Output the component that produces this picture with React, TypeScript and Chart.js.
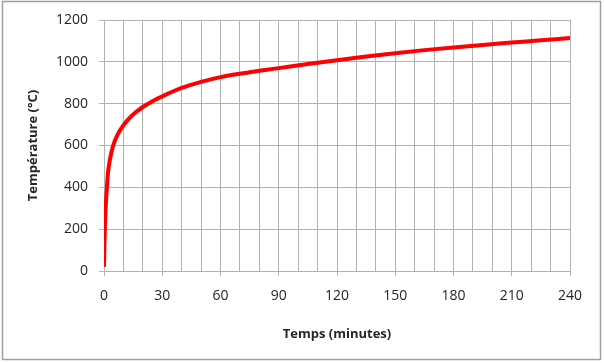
import React, { useEffect, useRef } from "react";
import { Chart, registerables } from "chart.js";

Chart.register(...registerables);

const timesMin = [0, 0.25, 0.5, 1, 1.5, 2, 3, 4, 5, 7, 10, 15, 20, 25, 30, 40, 50, 60, 75, 90, 105, 120, 135, 150, 165, 180, 195, 210, 225, 240];
const temperatures = [20, 140, 220, 330, 400, 465, 530, 575, 608, 652, 697, 748, 784, 812, 835, 875, 904, 927, 950, 970, 990, 1008, 1025, 1041, 1056, 1069, 1081, 1092, 1103, 1114];
const yTickStep = 200;
const xGridStep = 10;
const xLabelStep = 30;
const xTitle = "Temps (minutes)";
const yTitle = "Température (°C)";

const GRID = "#b3b3b3";
const TEXT = "#262626";

const borderPlugin = {
  id: "outerBorder",
  afterDraw(chart: any) {
    const ctx = chart.ctx;
    ctx.save();
    ctx.strokeStyle = "#a0a0a0";
    ctx.lineWidth = 1.5;
    ctx.strokeRect(2.5, 1.5, 598, 358);
    ctx.restore();
  },
};

export default function App() {
  const ref = useRef<HTMLCanvasElement | null>(null);
  useEffect(() => {
    document.body.style.margin = "0";
    if (!ref.current) return;
    const chart = new Chart(ref.current, {
      type: "line",
      data: {
        datasets: [
          {
            data: timesMin.map((t, i) => ({ x: t, y: temperatures[i] })),
            borderColor: "#ff0000",
            borderWidth: 4,
            pointRadius: 0,
            fill: false,
            cubicInterpolationMode: "monotone",
          },
        ],
      },
      options: {
        animation: false,
        responsive: true,
        maintainAspectRatio: false,
        layout: { padding: { top: 20, right: 34, bottom: 0, left: 0 } },
        plugins: { legend: { display: false }, tooltip: { enabled: false } },
        scales: {
          x: {
            type: "linear",
            min: 0,
            max: 240,
            afterFit: (s: any) => {
              s.height = 92;
            },
            ticks: {
              stepSize: xGridStep,
              autoSkip: false,
              maxRotation: 0,
              padding: 12,
              color: TEXT,
              font: { family: "Open Sans", size: 14 },
              callback: (v: any) => (Number(v) % xLabelStep === 0 ? String(v) : ""),
            },
            grid: {
              color: GRID,
              tickLength: 5,
              tickColor: (c: any) => (c.tick && c.tick.value % xLabelStep === 0 ? GRID : "rgba(0,0,0,0)"),
            },
            border: { color: GRID },
            title: {
              display: true,
              text: xTitle,
              color: TEXT,
              font: { family: "Open Sans", size: 13, weight: "bold" },
              padding: { top: 0, bottom: 21 },
            },
          },
          y: {
            min: 0,
            max: 1200,
            afterFit: (s: any) => {
              s.width = 104;
            },
            ticks: {
              stepSize: yTickStep,
              padding: 11,
              color: TEXT,
              font: { family: "Open Sans", size: 14 },
              callback: (v: any) => String(v),
            },
            grid: { color: GRID, tickLength: 5, tickColor: GRID },
            border: { color: GRID },
            title: {
              display: true,
              text: yTitle,
              color: TEXT,
              font: { family: "Open Sans", size: 13, weight: "bold" },
              padding: { top: 25, bottom: 0 },
            },
          },
        },
      },
      plugins: [borderPlugin],
    } as any);
    return () => chart.destroy();
  }, []);
  return (
    <div style={{ width: 604, height: 363, position: "relative", background: "#fff" }}>
      <canvas ref={ref} />
    </div>
  );
}
